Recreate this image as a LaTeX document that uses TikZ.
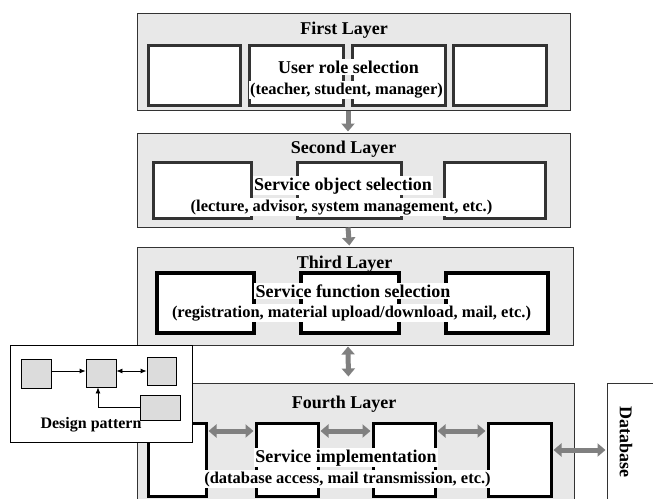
\documentclass[tikz,border=0pt]{standalone}
\usepackage{fontspec}
\setmainfont{Liberation Serif}
\usetikzlibrary{arrows.meta}
\definecolor{layerfill}{HTML}{E8E8E8}
\definecolor{edgegray}{HTML}{333333}
\definecolor{arrowgray}{HTML}{808080}
\definecolor{smallfill}{HTML}{DCDCDC}
\tikzset{
  layerbox/.style={draw=edgegray, fill=layerfill, line width=1pt, inner sep=0pt},
  unitbox/.style={draw=edgegray, fill=white, line width=3pt, inner sep=0pt},
  unitboxdark/.style={draw=black, fill=white, line width=3.2pt, inner sep=0pt},
  title/.style={font=\bfseries\fontsize{18}{20}\selectfont, inner sep=0pt, anchor=base},
  headline/.style={font=\bfseries\fontsize{18}{20}\selectfont, fill=white, inner sep=1.5pt, anchor=base},
  subline/.style={font=\bfseries\fontsize{16.5}{18}\selectfont, fill=white, inner sep=1.5pt, anchor=base},
  bigarrow/.style={draw=arrowgray, line width=5pt, -{Triangle[width=13pt,length=8pt]}},
  bigdouble/.style={draw=arrowgray, line width=5pt, {Triangle[width=13pt,length=8pt]}-{Triangle[width=13pt,length=8pt]}},
  minibox/.style={draw=black, fill=smallfill, line width=0.8pt, inner sep=0pt},
  miniarrow/.style={draw=black, line width=0.8pt, -{Latex[length=6pt,width=5pt]}},
}
\begin{document}
\begin{tikzpicture}[x=1pt,y=-1pt]
\useasboundingbox (0,0) rectangle (653,498);
\clip (0,0) rectangle (653,498);

% ---- layer frames ----
\node (L1) [layerbox, minimum width=433pt, minimum height=97pt] at (353.5,61.5) {};
\node (L2) [layerbox, minimum width=433pt, minimum height=94pt] at (353.5,180) {};
\node (L3) [layerbox, minimum width=436pt, minimum height=98pt] at (355,296) {};
\node (L4) [layerbox, minimum width=437pt, minimum height=137pt] at (355.5,451.5) {};
\node (DB) [draw=edgegray, fill=white, line width=1pt, minimum width=63pt, minimum height=137pt] at (638.5,451.5) {};

% ---- first layer units ----
\node (A1) [unitbox, minimum width=92pt, minimum height=60pt] at (194,75) {};
\node (A2) [unitbox, minimum width=94pt, minimum height=60pt] at (296,75) {};
\node (A3) [unitbox, minimum width=93pt, minimum height=60pt] at (398.5,75) {};
\node (A4) [unitbox, minimum width=93pt, minimum height=60pt] at (499.5,75) {};

% ---- second layer units ----
\node (B1) [unitbox, minimum width=98pt, minimum height=56pt] at (202,190) {};
\node (B2) [unitbox, minimum width=104pt, minimum height=56pt] at (349,190) {};
\node (B3) [unitbox, minimum width=101pt, minimum height=56pt] at (494.5,190) {};

% ---- third layer units ----
\node (C1) [unitboxdark, minimum width=97pt, minimum height=60pt] at (205.5,303) {};
\node (C2) [unitboxdark, minimum width=98pt, minimum height=60pt] at (350,303) {};
\node (C3) [unitboxdark, minimum width=102pt, minimum height=60pt] at (497,303) {};

% ---- fourth layer units ----
\node (D1) [unitboxdark, line width=3pt, minimum width=58pt, minimum height=73pt] at (177,459.5) {};
\node (D2) [unitboxdark, line width=3pt, minimum width=62pt, minimum height=73pt] at (287,459.5) {};
\node (D3) [unitboxdark, line width=3pt, minimum width=62pt, minimum height=73pt] at (404,459.5) {};
\node (D4) [unitboxdark, line width=3pt, minimum width=63pt, minimum height=73pt] at (519.5,459.5) {};

% ---- labels ----
\node (t1) [title] at (344,34) {First Layer};
\node (h1) [headline] at (348.5,73) {User role selection};
\node (s1) [subline] at (346.5,94) {(teacher, student, manager)};

\node (t2) [title] at (343.5,153) {Second Layer};
\node (h2) [headline] at (343,190) {Service object selection};
\node (s2) [subline] at (341.5,211) {(lecture, advisor, system management, etc.)};

\node (t3) [title] at (344.5,268) {Third Layer};
\node (h3) [headline] at (353,297) {Service function selection};
\node (s3) [subline] at (351.5,317) {(registration, material upload/download, mail, etc.)};

\node (t4) [title] at (344,408) {Fourth Layer};
\node (h4) [headline] at (346,462) {Service implementation};
\node (s4) [subline] at (347.5,483) {(database access, mail transmission, etc.)};

\node (dbl) [font=\bfseries\fontsize{18}{20}\selectfont, rotate=-90, inner sep=0pt] at (626,442) {Database};

% ---- flow between layers ----
\draw[bigarrow, shorten >=1pt] ([xshift=-5.5pt]L1.south) -- ([xshift=-5.5pt]L2.north);
\draw[bigarrow, shorten >=1pt] ([xshift=-5.5pt]L2.south) -- ([xshift=-5.5pt]L3.north);
\draw[bigdouble, shorten <=1pt, shorten >=6pt] ([xshift=-7pt]L3.south) -- ([xshift=-7pt]L4.north);

% ---- links inside the fourth layer ----
\draw[bigdouble, shorten <=1pt, shorten >=1pt] ([yshift=28.5pt]D1.east) -- ([yshift=28.5pt]D2.west);
\draw[bigdouble, shorten <=1pt, shorten >=1pt] ([yshift=28.5pt]D2.east) -- ([yshift=28.5pt]D3.west);
\draw[bigdouble, shorten <=1pt, shorten >=1pt] ([yshift=28.5pt]D3.east) -- ([yshift=28.5pt]D4.west);
\coordinate (dbport) at ([yshift=9.5pt]D4.east);
\draw[bigdouble, shorten <=1pt, shorten >=1pt] (dbport) -- (dbport -| DB.west);

% ---- design pattern inset ----
\node (DP) [draw=black, fill=white, line width=0.8pt, minimum width=182pt, minimum height=97pt] at (101,393.5) {};
\node (PA) [minibox, minimum width=30pt, minimum height=29pt] at (36,373.5) {};
\node (PB) [minibox, minimum width=30pt, minimum height=28pt] at (101,373) {};
\node (PC) [minibox, minimum width=29pt, minimum height=28pt] at (161.5,371) {};
\node (PD) [minibox, minimum width=40pt, minimum height=25pt] at (160,407.5) {};
\coordinate (pbl) at ([yshift=2pt]PB.west);
\coordinate (pbr) at ([yshift=2pt]PB.east);
\draw[miniarrow] (PA.east |- pbl) -- (pbl);
\draw[miniarrow, {Latex[length=6pt,width=5pt]}-{Latex[length=6pt,width=5pt]}] (pbr) -- (pbr -| PC.west);
\draw[miniarrow] (PD.west) -| ([xshift=-3pt]PB.south);
\node (dpl) [font=\bfseries\fontsize{16}{18}\selectfont, inner sep=0pt, anchor=base] at (91,428) {Design pattern};
\end{tikzpicture}
\end{document}
